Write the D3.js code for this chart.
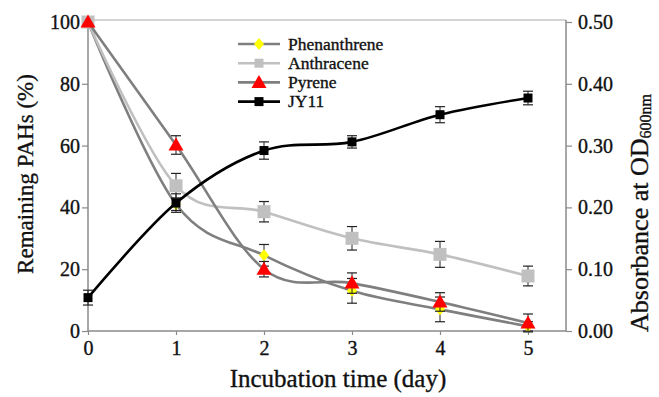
<!DOCTYPE html>
<html>
<head>
<meta charset="utf-8">
<script src="https://cdn.jsdelivr.net/npm/d3@7"></script>
<style>
  body { margin: 0; background: #fff; }
</style>
</head>
<body>
<svg id="chart" width="659" height="397"></svg>
<script>
// data
const days = [0, 1, 2, 3, 4, 5];
const phenanthrene = [100, 41, 24.5, 13, 7, 1.5];
const phenanthreneErr = [0, 2, 3.5, 4, 4, 1.5];
const anthracene = [100, 47, 38.6, 30, 24.8, 17.8];
const anthraceneErr = [0, 4, 3.3, 3.8, 4.2, 3.2];
const pyrene = [100, 60.2, 20, 15.5, 9.4, 2.6];
const pyreneErr = [0, 3, 2.5, 3.3, 3, 2.9];
const jy11 = [0.054, 0.207, 0.292, 0.306, 0.35, 0.377];
const jy11Err = [0.012, 0.015, 0.014, 0.01, 0.013, 0.011];

const leftTicks = [0, 20, 40, 60, 80, 100];
const rightTicks = [0, 0.1, 0.2, 0.3, 0.4, 0.5];

const serif = "'Liberation Serif', Tinos, 'Times New Roman', Times, 'DejaVu Serif', serif";

let svg = d3.select("#chart");
svg.append("rect").attr("width", 659).attr("height", 397).attr("fill", "#fff");

let x = d3.scaleLinear().domain([0, 5]).range([88, 528]);
let y = d3.scaleLinear().domain([0, 100]).range([331, 22]);
let y2 = d3.scaleLinear().domain([0, 0.5]).range([331, 22]);
let xRight = 566;

const axisColor = "#8a8a8a";

// heavier looking serif text, like the scanned figure
function txt(sel, size) {
    return sel.style("font-family", serif).style("font-size", size + "px")
        .attr("fill", "#111").attr("stroke", "#111").attr("stroke-width", 0.35);
}

// frame
svg.append("line").attr("x1", x(0)).attr("x2", xRight).attr("y1", 20).attr("y2", 20)
    .attr("stroke", "#aaa").attr("stroke-width", 1.2);

// left axis
let gl = svg.append("g").attr("transform", "translate(" + x(0) + ",0)")
    .call(d3.axisLeft(y).tickValues(leftTicks).tickSize(6).tickPadding(2));
// right axis
let gr = svg.append("g").attr("transform", "translate(" + xRight + ",0)")
    .call(d3.axisRight(y2).tickValues(rightTicks).tickSize(6).tickPadding(6)
        .tickFormat(d3.format(".2f")));
// bottom axis
let gb = svg.append("g").attr("transform", "translate(0," + y(0) + ")")
    .call(d3.axisBottom(x).tickValues(days).tickSize(4).tickPadding(6)
        .tickFormat(d3.format("d")));
gl.select(".domain").attr("d", "M0,20V331");
gr.select(".domain").attr("d", "M0,20V331");
gb.select(".domain").attr("d", "M" + x(0) + ",0H" + xRight);

[gl, gr, gb].forEach(g => {
    g.attr("font-family", null);
    g.selectAll(".domain").attr("stroke", axisColor).attr("stroke-width", 1.5);
    g.selectAll(".tick line").attr("stroke", axisColor).attr("stroke-width", 1.2);
    txt(g.selectAll(".tick text"), 20);
});

// axis titles
txt(svg.append("text"), 23)
    .attr("transform", "translate(33,174) rotate(-90)")
    .attr("text-anchor", "middle")
    .text("Remaining PAHs (%)");

let rt = txt(svg.append("text"), 26)
    .attr("transform", "translate(648,213) rotate(-90)")
    .attr("text-anchor", "middle");
rt.append("tspan").text("Absorbance at OD");
rt.append("tspan").attr("dy", 3).style("font-size", "16px").text("600nm");

txt(svg.append("text"), 25).attr("x", 338).attr("y", 387).attr("text-anchor", "middle")
    .text("Incubation time (day)");

// markers
function markerPath(shape) {
    if (shape === "diamond") return "M0,-6L5,0L0,6L-5,0Z";
    if (shape === "triangle") return "M0,-7.5L7.5,5.5L-7.5,5.5Z";
    if (shape === "bigsquare") return "M-6.5,-6.5H6.5V6.5H-6.5Z";
    return "M-4.5,-4.5H4.5V4.5H-4.5Z";
}

let series = [
    {name: "Phenanthrene", vals: phenanthrene, err: phenanthreneErr, line: "#7f7f7f", fill: "#ffff00", shape: "diamond", ys: y},
    {name: "Anthracene", vals: anthracene, err: anthraceneErr, line: "#c0c0c0", fill: "#c0c0c0", shape: "bigsquare", ys: y},
    {name: "Pyrene", vals: pyrene, err: pyreneErr, line: "#7f7f7f", fill: "#ff0000", shape: "triangle", ys: y},
    {name: "JY11", vals: jy11, err: jy11Err, line: "#000", fill: "#000", shape: "square", ys: y2}
];

series.forEach(s => {
    let pts = days.map((d, i) => ({d: d, v: s.vals[i], e: s.err[i]}));
    let line = d3.line().x(p => x(p.d)).y(p => s.ys(p.v)).curve(d3.curveCardinal.tension(0));
    let g = svg.append("g");
    g.append("path").datum(pts).attr("d", line).attr("fill", "none")
        .attr("stroke", s.line).attr("stroke-width", 2.6);
    // error bars
    let eb = g.selectAll(".eb").data(pts.filter(p => p.e > 0)).enter().append("g");
    eb.append("line").attr("x1", p => x(p.d)).attr("x2", p => x(p.d))
        .attr("y1", p => s.ys(p.v - p.e)).attr("y2", p => s.ys(p.v + p.e))
        .attr("stroke", "#222").attr("stroke-width", 1);
    [-1, 1].forEach(sign => {
        eb.append("line").attr("x1", p => x(p.d) - 5).attr("x2", p => x(p.d) + 5)
            .attr("y1", p => s.ys(p.v + sign * p.e)).attr("y2", p => s.ys(p.v + sign * p.e))
            .attr("stroke", "#222").attr("stroke-width", 1.2);
    });
    g.selectAll(".mk").data(pts).enter().append("path")
        .attr("transform", p => "translate(" + x(p.d) + "," + s.ys(p.v) + ")")
        .attr("d", markerPath(s.shape)).attr("fill", s.fill);
});

// legend
let lg = svg.append("g");
series.forEach((s, i) => {
    let ly = 44 + i * 19.2;
    lg.append("line").attr("x1", 238).attr("x2", 280).attr("y1", ly).attr("y2", ly)
        .attr("stroke", s.line).attr("stroke-width", 2.6);
    lg.append("path").attr("transform", "translate(259," + ly + ")")
        .attr("d", markerPath(s.shape === "bigsquare" ? "square" : s.shape)).attr("fill", s.fill);
    txt(lg.append("text"), 17.5).attr("x", 288).attr("y", ly + 5.5).text(s.name);
});
</script>
</body>
</html>
